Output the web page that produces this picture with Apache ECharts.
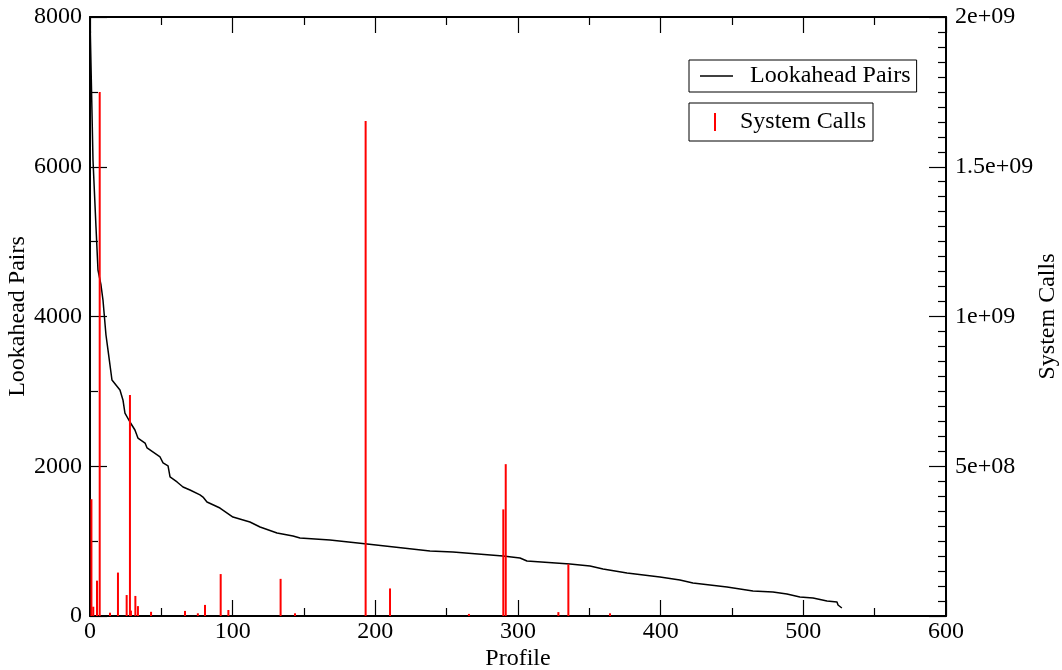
<!DOCTYPE html>
<html>
<head>
<meta charset="utf-8">
<script src="https://cdn.jsdelivr.net/npm/echarts@6/dist/echarts.min.js"></script>
<style>
html,body{margin:0;padding:0;background:#fff;}
#chart{width:1062px;height:670px;}
</style>
</head>
<body>
<div id="chart"></div>
<script>
// Lookahead Pairs (left axis)
const lookaheadX = [0, 2.1, 4.2, 5.6, 7.7, 9.1, 11.2, 12.6, 15.4, 21.0, 23.1, 24.5, 28.0, 31.5, 33.6, 38.6, 40.0, 49.1, 51.2, 54.7, 56.1, 61.0, 65.2, 70.1, 77.1, 79.2, 82.0, 91.1, 100.2, 112.1, 119.2, 131.1, 142.3, 147.2, 168.2, 194.2, 238.3, 254.4, 289.5, 301.4, 306.3, 336.4, 350.5, 359.6, 376.4, 399.5, 413.5, 422.6, 446.5, 464.7, 478.7, 488.5, 497.6, 506.8, 516.6, 523.6, 524.3, 527];
const lookaheadY = [8000, 6090, 5195, 4621, 4421, 4220, 3753, 3553, 3152, 3018, 2885, 2711, 2591, 2484, 2377, 2310, 2244, 2124, 2044, 2004, 1857, 1790, 1723, 1683, 1617, 1589, 1523, 1442, 1322, 1255, 1189, 1109, 1068, 1042, 1015, 962, 868, 855, 801, 775, 735, 695, 668, 628, 574, 521, 481, 441, 387, 334, 321, 294, 254, 240, 200, 187, 147, 107];

// System Calls (right axis) – impulses
const syscallX = [1, 2.3, 4.9, 6.8, 14, 19.6, 25.7, 28.0, 28.7, 31.8, 33.6, 42.8, 66.6, 75.6, 80.6, 91.6, 97, 133.6, 143.7, 193.2, 210.3, 265.6, 289.7, 291.4, 328.3, 335.3, 364.5];
const syscallY = [3.9e8, 3.1e7, 1.18e8, 1.75e9, 1.1e7, 1.45e8, 7.0e7, 7.38e8, 1.8e7, 6.7e7, 3.3e7, 1.4e7, 1.7e7, 9e6, 3.7e7, 1.4e8, 2.0e7, 1.24e8, 9e6, 1.653e9, 9.2e7, 7e6, 3.56e8, 5.07e8, 1.3e7, 1.73e8, 9e6];

const xTicks = [0, 100, 200, 300, 400, 500, 600];
const leftTicks = [0, 2000, 4000, 6000, 8000];
const rightTickValues = [0, 5e8, 1e9, 1.5e9, 2e9];
const rightTickLabels = ['', '5e+08', '1e+09', '1.5e+09', '2e+09'];

const FONT = 'Liberation Serif';
const FS = 24;
const lineData = lookaheadX.map((x, i) => [x, lookaheadY[i]]);
const barData = syscallX.map((x, i) => [x, syscallY[i]]);

const axisLineStyle = {show: true, onZero: false, lineStyle: {color: '#000', width: 2}};
const tickStyle = {color: '#000', width: 1.2};
const chart = echarts.init(document.getElementById('chart'), null, {renderer: 'canvas'});
chart.setOption({
  backgroundColor: '#fff',
  animation: false,
  grid: {left: 90, right: 116, top: 17, bottom: 54, containLabel: false, outerBoundsMode: 'none'},
  legend: [
    {
      data: [{name: 'Lookahead Pairs', icon: 'rect'}],
      left: 689, top: 60,
      orient: 'vertical',
      borderColor: '#000', borderWidth: 1, borderRadius: 0,
      padding: [4, 6, 4, 11],
      itemWidth: 33, itemHeight: 1.4,
      textStyle: {fontFamily: FONT, fontSize: FS, color: '#000', padding: [0, 0, 0, 12]}
    },
    {
      data: [{name: 'System Calls', icon: 'rect'}],
      left: 689, top: 103,
      orient: 'vertical',
      borderColor: '#000', borderWidth: 1, borderRadius: 0,
      padding: [7, 7, 7, 25],
      itemWidth: 2, itemHeight: 18,
      textStyle: {fontFamily: FONT, fontSize: FS, color: '#000', padding: [0, 0, 0, 19]}
    }
  ],
  xAxis: [
    {
      type: 'value', min: 0, max: 600, interval: 100, position: 'bottom',
      name: 'Profile', nameLocation: 'middle', nameGap: 31, nameMoveOverlap: false,
      nameTextStyle: {fontFamily: FONT, fontSize: FS, color: '#000'},
      axisLine: axisLineStyle,
      axisTick: {show: true, inside: true, length: 16, lineStyle: tickStyle},
      minorTick: {show: true, splitNumber: 2, length: 8, lineStyle: tickStyle},
      axisLabel: {fontFamily: FONT, fontSize: FS, color: '#000', margin: 4,
        formatter: v => xTicks.indexOf(v) >= 0 ? String(v) : ''},
      splitLine: {show: false}
    },
    {
      type: 'value', min: 0, max: 600, interval: 100, position: 'top',
      axisLine: axisLineStyle,
      axisTick: {show: true, inside: true, length: 16, lineStyle: tickStyle},
      minorTick: {show: true, splitNumber: 2, length: 8, lineStyle: tickStyle},
      axisLabel: {show: false},
      splitLine: {show: false}
    }
  ],
  yAxis: [
    {
      type: 'value', min: 0, max: 8000, interval: 2000, position: 'left',
      name: 'Lookahead Pairs', nameLocation: 'middle', nameGap: 60, nameRotate: 90, nameMoveOverlap: false,
      nameTextStyle: {fontFamily: FONT, fontSize: FS, color: '#000'},
      axisLine: axisLineStyle,
      axisTick: {show: true, inside: true, length: 17, lineStyle: tickStyle},
      minorTick: {show: true, splitNumber: 2, length: 8, lineStyle: tickStyle},
      axisLabel: {fontFamily: FONT, fontSize: FS, color: '#000', margin: 8,
        formatter: v => leftTicks.indexOf(v) >= 0 ? String(v) : ''},
      splitLine: {show: false}
    },
    {
      type: 'value', min: 0, max: 2e9, interval: 5e8, position: 'right',
      name: 'System Calls', nameLocation: 'middle', nameGap: 90, nameRotate: 90, nameMoveOverlap: false,
      nameTextStyle: {fontFamily: FONT, fontSize: FS, color: '#000'},
      axisLine: axisLineStyle,
      axisTick: {show: true, inside: true, length: 17, lineStyle: tickStyle},
      minorTick: {show: true, splitNumber: 10, length: 8, lineStyle: tickStyle},
      axisLabel: {fontFamily: FONT, fontSize: FS, color: '#000', margin: 9,
        formatter: v => {
          const i = rightTickValues.indexOf(v);
          return i >= 0 ? rightTickLabels[i] : '';
        }},
      splitLine: {show: false}
    }
  ],
  series: [
    {
      name: 'Lookahead Pairs', type: 'line', xAxisIndex: 0, yAxisIndex: 0,
      data: lineData, showSymbol: false, symbol: 'none',
      lineStyle: {color: '#000', width: 1.5},
      itemStyle: {color: '#000'}, z: 2
    },
    {
      name: 'System Calls', type: 'bar', xAxisIndex: 0, yAxisIndex: 1,
      data: barData, barWidth: 2,
      itemStyle: {color: '#ff0000'}, z: 3
    }
  ]
});
</script>
</body>
</html>
